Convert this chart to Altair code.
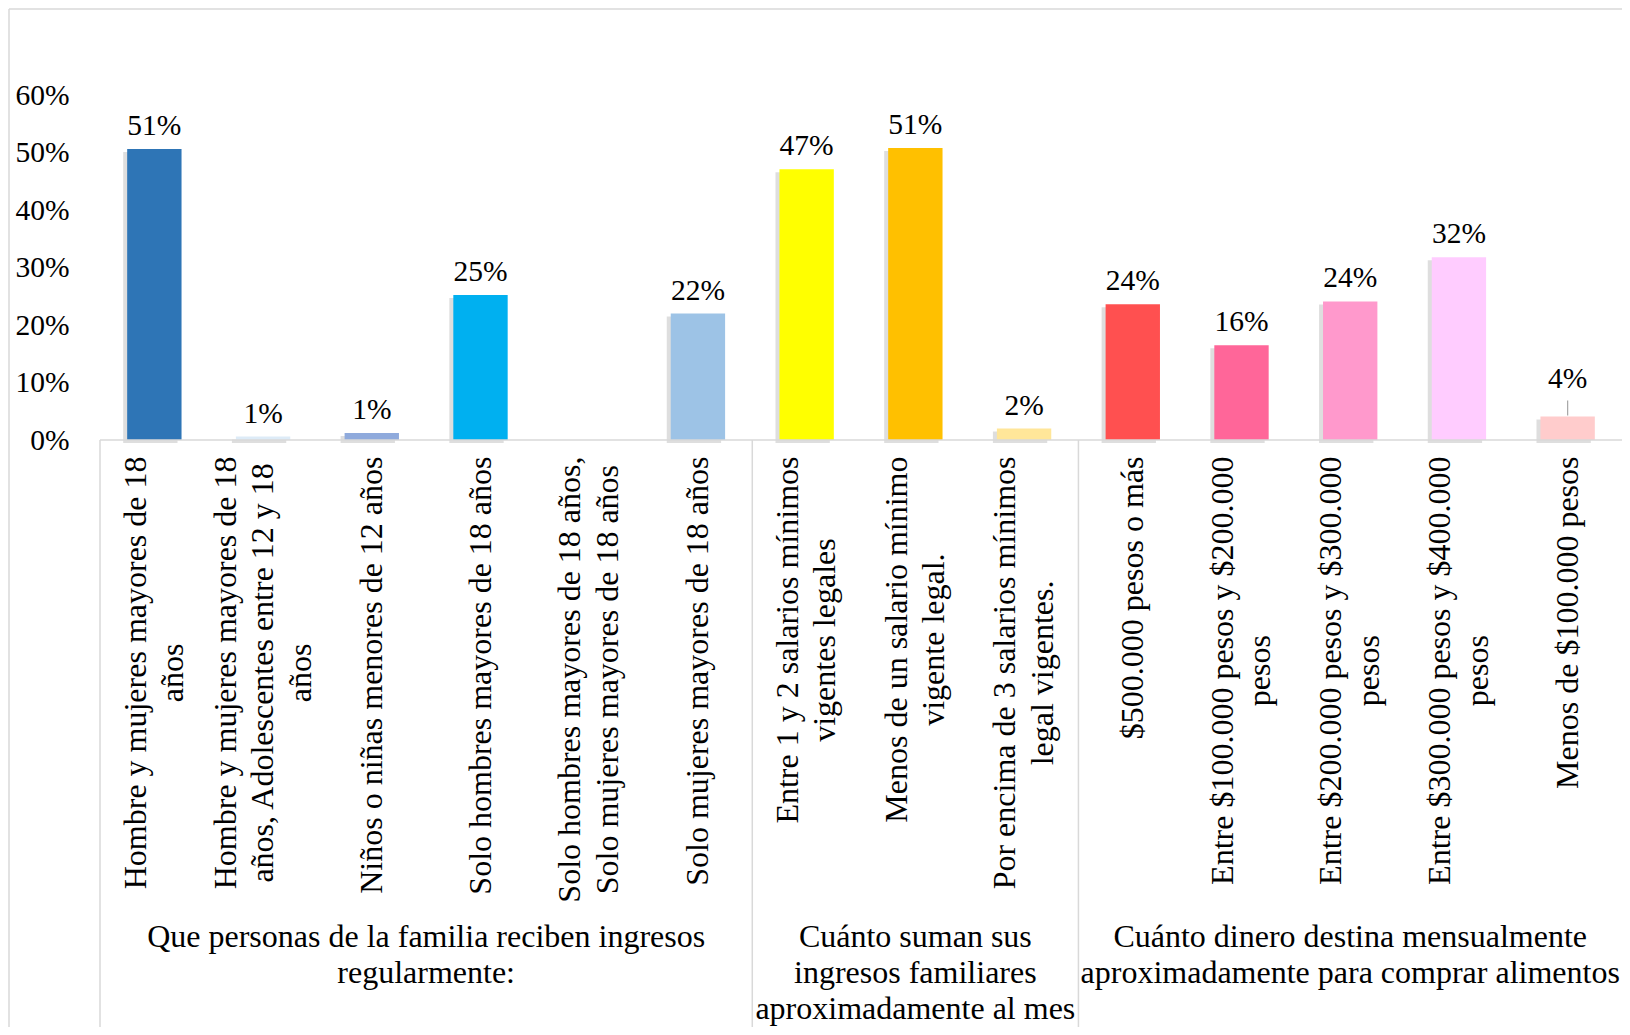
import altair as alt
import pandas as pd

# ---------------- data ----------------
group_names = [
    ["Que personas de la familia reciben ingresos", "regularmente:"],
    ["Cuánto suman sus", "ingresos familiares", "aproximadamente al mes"],
    ["Cuánto dinero destina mensualmente", "aproximadamente para comprar alimentos"],
]
group_sizes = [6, 3, 5]

category_lines = [
    ["Hombre y mujeres mayores de 18", "años"],
    ["Hombre y mujeres mayores de 18", "años, Adolescentes entre 12 y 18", "años"],
    ["Niños o niñas menores de 12 años"],
    ["Solo hombres mayores de 18 años"],
    ["Solo hombres mayores de 18 años,", "Solo mujeres mayores de 18 años"],
    ["Solo mujeres mayores de 18 años"],
    ["Entre 1 y 2 salarios mínimos", "vigentes legales"],
    ["Menos de un salario mínimo", "vigente legal."],
    ["Por encima de 3 salarios mínimos", "legal vigentes."],
    ["$500.000 pesos o más"],
    ["Entre $100.000 pesos y $200.000", "pesos"],
    ["Entre $200.000 pesos y $300.000", "pesos"],
    ["Entre $300.000 pesos y $400.000", "pesos"],
    ["Menos de $100.000 pesos"],
]
values = [0.506, 0.006, 0.012, 0.252, 0.0, 0.220, 0.471, 0.508, 0.020,
          0.236, 0.165, 0.241, 0.318, 0.041]
value_labels = ["51%", "1%", "1%", "25%", "", "22%", "47%", "51%", "2%",
                "24%", "16%", "24%", "32%", "4%"]
bar_colors = ["#2E75B6", "#DDEBF7", "#8FAADC", "#00B0F0", "#FFFFFF", "#9DC3E6",
              "#FFFF00", "#FFC000", "#FFE699", "#FF5050", "#FF6699", "#FF99CC",
              "#FFCCFF", "#FFCCCC"]
has_leader = [False] * 13 + [True]
y_ticks = [0, 0.1, 0.2, 0.3, 0.4, 0.5, 0.6]

# ---------------- layout / style ----------------
FONT = "Liberation Serif"
W, H = 1522, 345
CAT_FS = 32
LAB_TOP = 361.5  # top of rotated category labels (px below plot top)
LINE_H = 37.5
G_LINE_H = 36

TNR = {" ": 250, "$": 500, "%": 833, ",": 250, ".": 250, ":": 278}
TNR.update({d: 500 for d in "0123456789"})
TNR.update(dict(zip("ABCDEFGHIJKLMNOPQRSTUVWXYZ",
                    [722, 667, 667, 722, 611, 556, 722, 722, 333, 389, 722, 611, 889,
                     722, 722, 556, 722, 667, 556, 611, 722, 722, 944, 722, 722, 611])))
TNR.update(dict(zip("abcdefghijklmnopqrstuvwxyz",
                    [444, 500, 444, 500, 444, 333, 500, 500, 278, 278, 500, 278, 778,
                     500, 500, 500, 500, 333, 389, 278, 500, 500, 722, 500, 500, 444])))
TNR.update({"á": 444, "é": 444, "í": 278, "ó": 500, "ú": 500, "ñ": 500})


def text_w(s, size):
    return sum(TNR.get(c, 500) for c in s) * size / 1000.0


n = len(values)
step = W / n  # px per category
df = pd.DataFrame({
    "xc": list(range(n)),
    "x0": [i - 0.25 for i in range(n)],
    "x1": [i + 0.25 for i in range(n)],
    "value": values,
    "label": value_labels,
    "color": bar_colors,
    "leader": has_leader,
    "lines": category_lines,
    # center the multi-line block on the category
    "lab_x": [i - (len(ls) - 1) * LINE_H / 2 / step for i, ls in enumerate(category_lines)],
    "lab_y": [LAB_TOP + max(text_w(l, CAT_FS) for l in ls) / 2 for ls in category_lines],
})
df = df.astype({"lines": object})

starts = [sum(group_sizes[:k]) for k in range(len(group_sizes))]
gdf = pd.DataFrame({
    "gx": [s + (g - 1) / 2 for s, g in zip(starts, group_sizes)],
    "glines": group_names,
})
sdf = pd.DataFrame({"sx": [s - 0.5 for s in starts]})
one = pd.DataFrame({"a": [0]})

xs = alt.Scale(domain=[-0.5, n - 0.5], nice=False, zero=False)
ys = alt.Scale(domain=[0, 0.6], nice=False, zero=True)

base = alt.Chart(df)

shadow = base.mark_bar(color="#000000", opacity=0.13, xOffset=-4, x2Offset=-4,
                       yOffset=3, y2Offset=3).encode(
    x=alt.X("x0:Q", scale=xs, axis=None), x2="x1:Q",
    y=alt.Y("value:Q", scale=ys, axis=None), y2=alt.datum(0))

bars = base.mark_bar().encode(
    x=alt.X("x0:Q", scale=xs, axis=None), x2="x1:Q",
    y=alt.Y("value:Q", scale=ys,
            axis=alt.Axis(values=y_ticks, format=".0%", title=None, ticks=False,
                          domain=False, labelFont=FONT, labelFontSize=29.5,
                          labelColor="#000000", labelPadding=31,
                          gridColor="#FFC000", gridWidth=1.3)),
    y2=alt.datum(0),
    color=alt.Color("color:N", scale=None))

baseline = alt.Chart(one).mark_rule(color="#D9D9D9", strokeWidth=1.5).encode(
    x=alt.value(0), x2=alt.value(W), y=alt.value(H))

vlabels = base.transform_filter("!datum.leader").mark_text(
    font=FONT, fontSize=29.5, baseline="middle", dy=-23, color="#000000").encode(
    x=alt.X("xc:Q", scale=xs), y=alt.Y("value:Q", scale=ys, axis=None), text="label:N")

llabels = base.transform_filter("datum.leader").mark_text(
    font=FONT, fontSize=29.5, baseline="middle", dy=-37, color="#000000").encode(
    x=alt.X("xc:Q", scale=xs), y=alt.Y("value:Q", scale=ys, axis=None), text="label:N")

leader = base.transform_filter("datum.leader").mark_rule(
    color="#A6A6A6", strokeWidth=1.2, yOffset=-1, y2Offset=-16).encode(
    x=alt.X("xc:Q", scale=xs), y=alt.Y("value:Q", scale=ys, axis=None), y2="value:Q")

seps = alt.Chart(sdf).mark_rule(color="#D9D9D9", strokeWidth=1.5).encode(
    x=alt.X("sx:Q", scale=xs), y=alt.value(H), y2=alt.value(H + 600))

catlabels = base.mark_text(font=FONT, fontSize=CAT_FS, angle=270, align="center",
                           baseline="middle", lineHeight=LINE_H, color="#000000").encode(
    x=alt.X("lab_x:Q", scale=xs), y=alt.Y("lab_y:Q", scale=None, axis=None), text="lines")

glabels = alt.Chart(gdf).mark_text(font=FONT, fontSize=CAT_FS, align="center",
                                   baseline="alphabetic", lineHeight=G_LINE_H,
                                   color="#000000").encode(
    x=alt.X("gx:Q", scale=xs), y=alt.value(852), text="glines")

frame_top = alt.Chart(one).mark_rule(color="#D9D9D9", strokeWidth=1.5).encode(
    x=alt.value(-91), x2=alt.value(W + 10), y=alt.value(-86))
frame_left = alt.Chart(one).mark_rule(color="#D9D9D9", strokeWidth=1.5).encode(
    x=alt.value(-91), y=alt.value(-86), y2=alt.value(H + 600))

chart = alt.layer(
    frame_top, frame_left, shadow, bars, baseline, seps, vlabels, llabels, leader,
    catlabels, glabels
).resolve_scale(y="independent").properties(
    width=W, height=H,
    padding={"left": 92, "top": 87, "right": 0, "bottom": 587},
    autosize=alt.AutoSizeParams(type="none"),
    background="white",
).configure_view(stroke=None)

chart.save("out.html", embed_options={"renderer": "svg", "actions": False})
